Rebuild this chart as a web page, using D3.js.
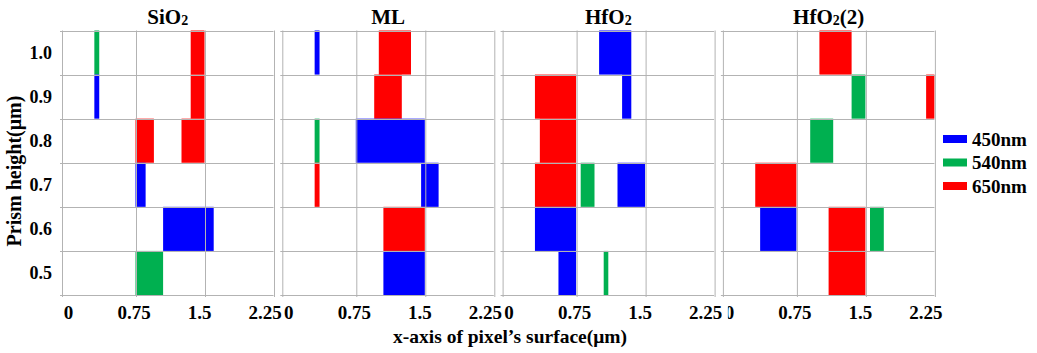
<!DOCTYPE html>
<html>
<head>
<meta charset="utf-8">
<title>Prism height vs x-axis of pixel's surface</title>
<style>
  body { margin: 0; background: #fff; }
  svg text { font-family: "Liberation Serif", "Times New Roman", serif; font-weight: bold; fill: #000; }
</style>
</head>
<body>
<div id="chart"></div>
<script src="https://d3js.org/d3.v7.min.js"></script>
<script>
// panels, rows and wavelengths
const panels = ["SiO2", "ML", "HfO2", "HfO2(2)"];
const heights = [1.0, 0.9, 0.8, 0.7, 0.6, 0.5];
const wavelengths = ["450nm", "540nm", "650nm"];
const waveColors = ["#0000ff", "#00b050", "#ff0000"];
const xTicks = [0, 0.75, 1.5, 2.25];
const xTickLabels = ["0", "0.75", "1.5", "2.25"];

// bars per panel: [prism height, wavelength, x start, x end]
const sio2Bars = [
  [1.0, "540nm", 0.33, 0.38], [1.0, "650nm", 1.35, 1.5],
  [0.9, "450nm", 0.33, 0.38], [0.9, "650nm", 1.35, 1.5],
  [0.8, "650nm", 0.75, 0.95], [0.8, "650nm", 1.25, 1.5],
  [0.7, "450nm", 0.75, 0.86],
  [0.6, "450nm", 1.05, 1.6],
  [0.5, "540nm", 0.75, 1.05]
];
const mlBars = [
  [1.0, "450nm", 0.33, 0.38], [1.0, "650nm", 1.0, 1.35],
  [0.9, "650nm", 0.95, 1.25],
  [0.8, "540nm", 0.33, 0.38], [0.8, "450nm", 0.75, 1.5],
  [0.7, "650nm", 0.33, 0.38], [0.7, "450nm", 1.46, 1.65],
  [0.6, "650nm", 1.05, 1.5],
  [0.5, "450nm", 1.05, 1.5]
];
const hfo2Bars = [
  [1.0, "450nm", 1.0, 1.35],
  [0.9, "650nm", 0.33, 0.75], [0.9, "450nm", 1.25, 1.35],
  [0.8, "650nm", 0.38, 0.75],
  [0.7, "650nm", 0.33, 0.75], [0.7, "540nm", 0.8, 0.95], [0.7, "450nm", 1.2, 1.5],
  [0.6, "450nm", 0.33, 0.75],
  [0.5, "450nm", 0.57, 0.75], [0.5, "540nm", 1.05, 1.1]
];
const hfo2bBars = [
  [1.0, "650nm", 1.0, 1.35],
  [0.9, "540nm", 1.35, 1.5], [0.9, "650nm", 2.16, 2.25],
  [0.8, "540nm", 0.9, 1.15],
  [0.7, "650nm", 0.33, 0.75],
  [0.6, "450nm", 0.38, 0.75], [0.6, "650nm", 1.1, 1.5], [0.6, "540nm", 1.55, 1.7],
  [0.5, "650nm", 1.1, 1.5]
];
const panelBars = [sio2Bars, mlBars, hfo2Bars, hfo2bBars];

const W = 1037, H = 353;
const plotTop = 30.5, plotBottom = 295;
const panelLeft0 = 62, panelStep = 220.3, panelW = 211.5;
const gridColor = "#b3b3b3";

const svg = d3.select("#chart").append("svg")
  .attr("width", W).attr("height", H);

const color = d3.scaleOrdinal().domain(wavelengths).range(waveColors);

const y = d3.scaleBand()
  .domain(heights)
  .range([plotTop, plotBottom])
  .padding(0);

// the x axis is slightly wider between 0 and 0.75 in the original
const x = d3.scaleLinear()
  .domain([0, 0.75, 2.25])
  .range([0, 73.5, panelW]);

// tick labels sit a little inside the panel
const xLabel = d3.scaleLinear()
  .domain([0, 2.25])
  .range([6.5, 203]);

const px = v => Math.round(v) + 0.5;

// the last panel's "0" is half hidden in the original
svg.append("defs").append("clipPath")
  .attr("id", "clip4")
  .append("rect")
  .attr("x", 5).attr("y", 298).attr("width", panelW + 40).attr("height", 30);

panels.forEach((name, i) => {
  const left = panelLeft0 + i * panelStep;
  const g = svg.append("g").attr("transform", `translate(${left},0)`);

  // bars
  g.selectAll("rect.bar")
    .data(panelBars[i])
    .enter().append("rect")
    .attr("class", "bar")
    .attr("x", d => x(d[2]))
    .attr("width", d => x(d[3]) - x(d[2]))
    .attr("y", d => y(d[0]))
    .attr("height", y.bandwidth())
    .attr("fill", d => color(d[1]));

  // horizontal row lines with small ticks on the left
  const rowLines = [plotTop].concat(heights.map(h => y(h) + y.bandwidth()));
  g.selectAll("line.row")
    .data(rowLines)
    .enter().append("line")
    .attr("x1", -2).attr("x2", panelW)
    .attr("y1", d => px(d)).attr("y2", d => px(d))
    .attr("stroke", gridColor).attr("stroke-width", 1);

  // vertical grid lines and borders
  g.selectAll("line.col")
    .data(xTicks)
    .enter().append("line")
    .attr("x1", d => px(x(d))).attr("x2", d => px(x(d)))
    .attr("y1", plotTop).attr("y2", plotBottom + 2)
    .attr("stroke", gridColor).attr("stroke-width", 1);

  // x tick labels
  const lab = g.append("g");
  if (i === 3) lab.attr("clip-path", "url(#clip4)");
  lab.selectAll("text")
    .data(xTicks)
    .enter().append("text")
    .attr("x", d => xLabel(d))
    .attr("y", 319)
    .attr("text-anchor", "middle")
    .style("font-size", "19px")
    .text((d, k) => xTickLabels[k]);

  // panel title with subscript 2
  const m = name.match(/^(\D+)2(.*)$/);
  const t = g.append("text")
    .attr("x", panelW / 2)
    .attr("y", 24)
    .attr("text-anchor", "middle")
    .style("font-size", "21px");
  if (m) {
    t.append("tspan").text(m[1]);
    t.append("tspan").style("font-size", "14px").attr("dy", 1).text("2");
    if (m[2]) t.append("tspan").attr("dy", -1).text(m[2]);
  } else {
    t.text(name);
  }
});

// y tick labels
svg.append("g").selectAll("text")
  .data(heights)
  .enter().append("text")
  .attr("x", 52)
  .attr("y", d => y(d) + y.bandwidth() / 2 + 6)
  .attr("text-anchor", "end")
  .style("font-size", "18px")
  .text(d => d.toFixed(1));

// axis titles
svg.append("text")
  .attr("transform", "translate(21,171) rotate(-90)")
  .attr("text-anchor", "middle")
  .style("font-size", "20px")
  .text("Prism height(μm)");

svg.append("text")
  .attr("x", 510)
  .attr("y", 343)
  .attr("text-anchor", "middle")
  .style("font-size", "19.5px")
  .text("x-axis of pixel\u2019s surface(μm)");

// legend
const legend = svg.selectAll(".legend")
  .data(wavelengths)
  .enter().append("g")
  .attr("class", "legend")
  .attr("transform", (d, i) => `translate(943,${139 + i * 23.5})`);

legend.append("rect")
  .attr("x", 0).attr("y", -4)
  .attr("width", 24).attr("height", 8)
  .attr("fill", d => color(d));

legend.append("text")
  .attr("x", 29)
  .attr("y", 6.5)
  .style("font-size", "19px")
  .text(d => d);
</script>
</body>
</html>
